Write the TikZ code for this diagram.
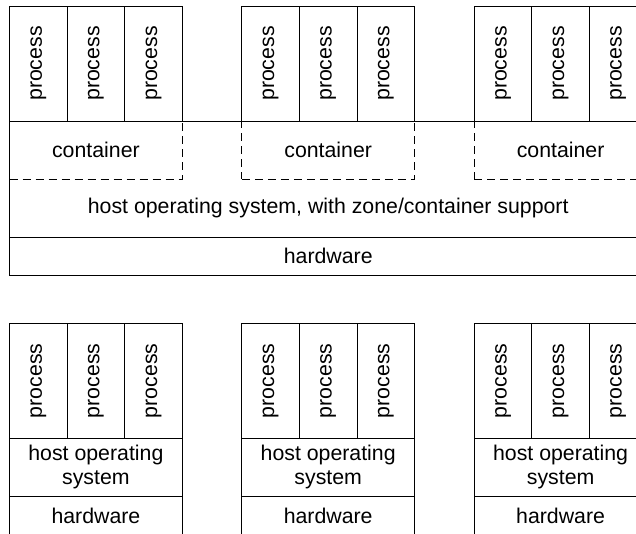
\documentclass[tikz,border=0pt]{standalone}
\usepackage{fontspec}
\setmainfont{Liberation Sans}
\begin{document}
\begin{tikzpicture}[x=1pt,y=-1pt, line width=0.9pt,
  every node/.style={font=\fontsize{21.3}{24.5}\selectfont, inner sep=0pt, outer sep=0pt},
  solidbox/.style={draw, anchor=north west, align=center},
  dashbox/.style={draw, dash pattern=on 8pt off 5pt, anchor=north west},
  plain/.style={align=center}]
\useasboundingbox (0,0) rectangle (636,534);
\clip (0,0) rectangle (636,534);
% ---------- top: containers ----------
\node[solidbox, minimum width=637.5pt, minimum height=116pt] (hostT) at (9.5,121) {};
\node[plain] (hostTtext) at (328.2,208) {host operating system, with zone/container support};
\node[solidbox, minimum width=637.5pt, minimum height=38pt] (hwT) at (9.5,237) {hardware};
\foreach \g/\gx in {1/9.5, 2/241.8, 3/474.2} {
  \node[dashbox, minimum width=172.8pt, minimum height=58pt] (cont\g) at (\gx,121) {container};
  \foreach \i in {0,1,2} {
    \node[solidbox, minimum width=57.6pt, minimum height=115pt] (pT\g\i) at (\gx+\i*57.6,6) {\rotatebox{90}{process}};
  }
}
% ---------- bottom: separate hosts ----------
\foreach \g/\gx in {1/9.5, 2/241.8, 3/474.2} {
  \foreach \i in {0,1,2} {
    \node[solidbox, minimum width=57.6pt, minimum height=115pt] (pB\g\i) at (\gx+\i*57.6,323.3) {\rotatebox{90}{process}};
  }
  \node[solidbox, minimum width=172.8pt, minimum height=57.7pt] (hostB\g) at (\gx,438.3) {host operating\\system};
  \node[solidbox, minimum width=172.8pt, minimum height=39pt] (hwB\g) at (\gx,496) {hardware};
}
\end{tikzpicture}
\end{document}
